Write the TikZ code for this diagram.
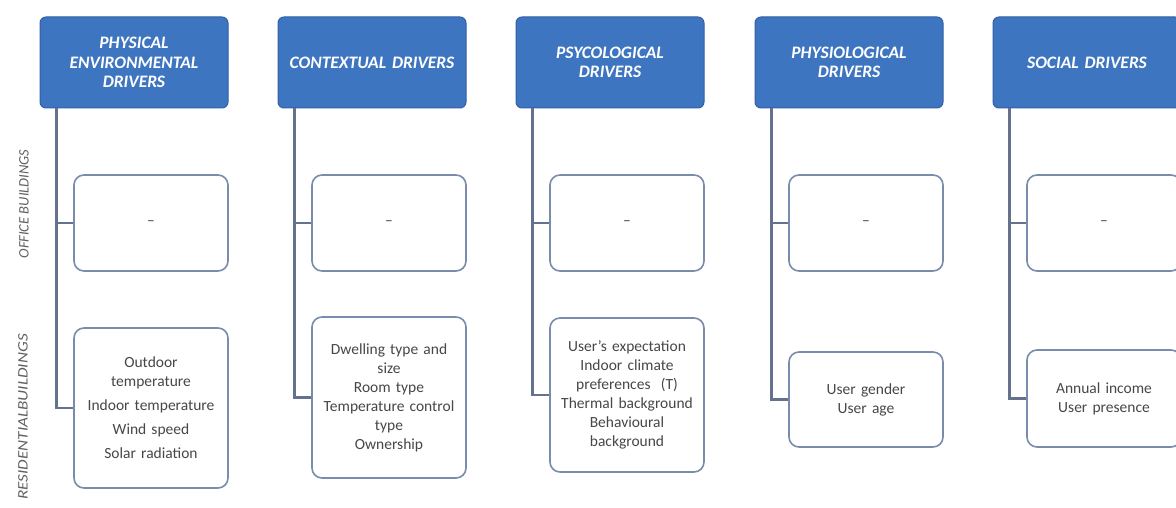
\documentclass[tikz,border=0pt]{standalone}
\usepackage{fontspec}
\setmainfont{Carlito}
\definecolor{hdrblue}{RGB}{62,117,193}
\definecolor{hdredge}{RGB}{50,96,165}
\definecolor{boxedge}{RGB}{122,140,172}
\definecolor{linkgray}{RGB}{100,114,142}

\begin{document}
\begin{tikzpicture}[x=1pt,y=-1pt,
  driver/.style={draw=hdredge,fill=hdrblue,rounded corners=6pt,line width=1pt,
    minimum width=188pt,minimum height=91pt,text width=180pt,align=center,
    text=white,font=\fontsize{17.5}{19.5}\selectfont\bfseries\itshape},
  entry/.style={draw=boxedge,fill=white,rounded corners=10pt,line width=1.6pt,
    minimum width=154pt,text width=146pt,align=center,inner sep=2pt,
    text=black!72,font=\fontsize{15.5}{19}\selectfont},
  side/.style={rotate=90,inner sep=0pt,text=black!62,
    font=\fontsize{14.5}{16}\selectfont\itshape},
  link/.style={draw=linkgray,line width=2.2pt}]
  \clip (0,0) rectangle (1176,508);
  \fill[white] (0,0) rectangle (1176,508);

  \node[side] (office) at (24,204) {OFFICE BUILDINGS};
  \node[side,anchor=east] (resid) at (23,334) {\scalebox{1.18}[1]{RESIDENTIALBUILDINGS}};

  \node[driver] (hP) at (134,62.5)  {PHYSICAL\\ENVIRONMENTAL\\DRIVERS};
  \node[driver] (hC) at (372,62.5)  {CONTEXTUAL DRIVERS};
  \node[driver] (hY) at (610,62.5)  {PSYCOLOGICAL\\DRIVERS};
  \node[driver] (hG) at (849,62.5)  {PHYSIOLOGICAL\\DRIVERS};
  \node[driver] (hS) at (1087,62.5) {SOCIAL DRIVERS};

  \node[entry,minimum height=96pt] (oP) at (151,223)  {--};
  \node[entry,minimum height=96pt] (oC) at (389,223)  {--};
  \node[entry,minimum height=96pt] (oY) at (627,223)  {--};
  \node[entry,minimum height=96pt] (oG) at (866,223)  {--};
  \node[entry,minimum height=96pt] (oS) at (1104,223) {--};

  \node[entry,minimum height=160pt] (rP) at (151,408)
    {Outdoor\\temperature\\[5pt]Indoor temperature\\[5pt]Wind speed\\[5pt]Solar radiation};
  \node[entry,minimum height=161pt] (rC) at (389,397.5)
    {Dwelling type and\\size\\Room type\\Temperature control\\type\\Ownership};
  \node[entry,minimum height=154pt] (rY) at (627,395)
    {User’s expectation\\Indoor climate\\preferences~ (T)\\Thermal background\\Behavioural\\background};
  \node[entry,minimum height=95pt] (rG) at (866,399.5) {User gender\\User age};
  \node[entry,minimum height=97pt] (rS) at (1104,398.5) {Annual income\\User presence};

  \draw[link] ([xshift=17pt]hP.south west) |- (rP.west);
  \draw[link] ([xshift=17pt]hC.south west) |- (rC.west);
  \draw[link] ([xshift=17pt]hY.south west) |- (rY.west);
  \draw[link] ([xshift=17pt]hG.south west) |- (rG.west);
  \draw[link] ([xshift=17pt]hS.south west) |- (rS.west);
  \draw[link] (oP.west) -- ([xshift=-17pt]oP.west);
  \draw[link] (oC.west) -- ([xshift=-17pt]oC.west);
  \draw[link] (oY.west) -- ([xshift=-17pt]oY.west);
  \draw[link] (oG.west) -- ([xshift=-17pt]oG.west);
  \draw[link] (oS.west) -- ([xshift=-17pt]oS.west);
\end{tikzpicture}
\end{document}
